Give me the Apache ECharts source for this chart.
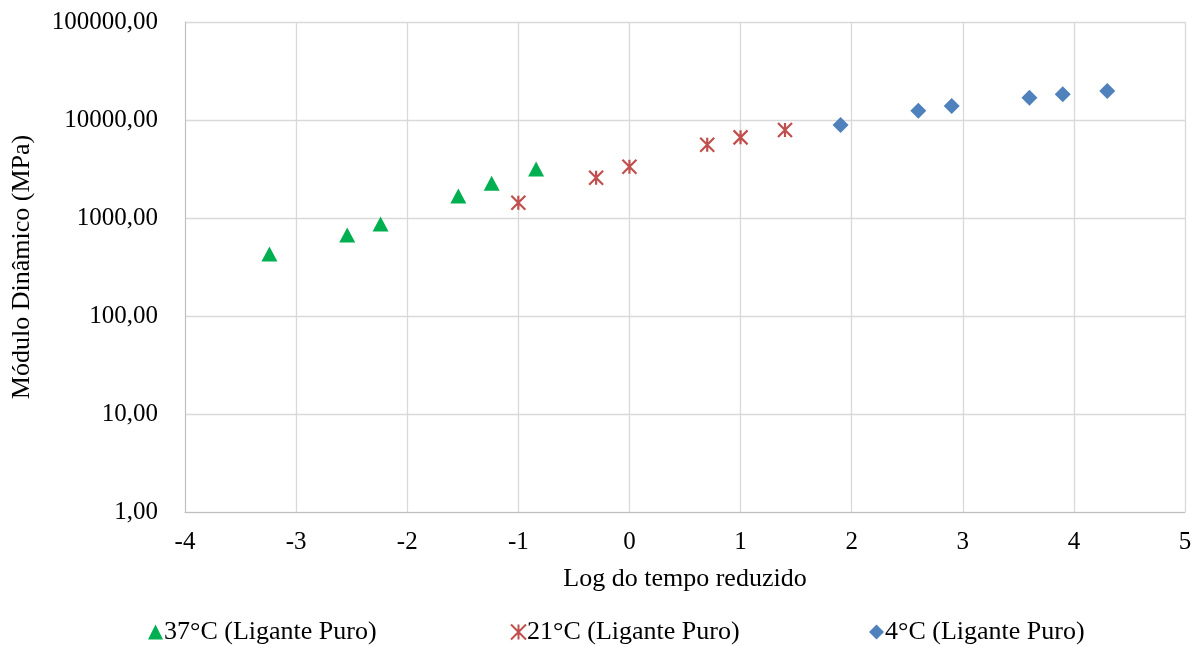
<!DOCTYPE html>
<html><head><meta charset="utf-8">
<script src="https://cdn.jsdelivr.net/npm/echarts@6/dist/echarts.min.js"></script>
<style>html,body{margin:0;padding:0;background:#fff}#c{width:1203px;height:646px}</style>
</head><body><div id="c"></div>
<script>
const seriesNames = ['37°C (Ligante Puro)', '21°C (Ligante Puro)', '4°C (Ligante Puro)'];
const x37 = [-3.24, -2.54, -2.24, -1.54, -1.24, -0.84];
const y37 = [430, 670, 870, 1675, 2260, 3160];
const x21 = [-1.0, -0.30, 0.0, 0.70, 1.0, 1.40];
const y21 = [1430, 2575, 3340, 5600, 6650, 7900];
const x4 = [1.90, 2.60, 2.90, 3.60, 3.90, 4.30];
const y4 = [8900, 12440, 13900, 16900, 18300, 19800];
const xTicks = [-4, -3, -2, -1, 0, 1, 2, 3, 4, 5];
const yTicks = [1, 10, 100, 1000, 10000, 100000];

const pair = (xs, ys) => xs.map((x, i) => [x, ys[i]]);
const font = '"Liberation Serif", "Times New Roman", serif';
const starPath = 'path://M0,0L10,10M10,0L0,10M5,0L5,10';

const chart = echarts.init(document.getElementById('c'), null, {renderer: 'canvas'});
const legendText = {fontFamily: font, fontSize: 26, color: '#000', padding: [0,0,0,-4]};
chart.setOption({
  animation: false,
  backgroundColor: '#fff',
  textStyle: {fontFamily: font},
  grid: {left: 185, right: 18, top: 22, bottom: 134, containLabel: false, outerBoundsMode: 'none'},
  xAxis: {
    type: 'value', min: xTicks[0], max: xTicks[xTicks.length - 1], interval: 1,
    name: 'Log do tempo reduzido', nameLocation: 'middle', nameGap: 54,
    nameTextStyle: {fontFamily: font, fontSize: 26, color: '#000'},
    axisLine: {show: true, onZero: false, lineStyle: {color: '#bfbfbf', width: 1}},
    axisTick: {show: false},
    axisLabel: {fontFamily: font, fontSize: 25, color: '#000', margin: 18},
    splitLine: {show: true, lineStyle: {color: '#d9d9d9', width: 1.3}}
  },
  yAxis: {
    type: 'log', logBase: 10, min: yTicks[0], max: yTicks[yTicks.length - 1],
    name: 'Módulo Dinâmico (MPa)', nameLocation: 'middle', nameGap: 150, nameRotate: 90,
    nameTextStyle: {fontFamily: font, fontSize: 26, color: '#000'},
    axisLine: {show: true, onZero: false, lineStyle: {color: '#bfbfbf', width: 1}},
    axisTick: {show: false},
    axisLabel: {fontFamily: font, fontSize: 25, color: '#000', margin: 27,
      formatter: v => Number(v).toFixed(2).replace('.', ',')},
    splitLine: {show: true, lineStyle: {color: '#d9d9d9', width: 1.3}}
  },
  legend: [
    {data: [seriesNames[0]], left: 143, top: 614, itemWidth: 15, itemHeight: 15, textStyle: legendText},
    {data: [seriesNames[1]], left: 505, top: 614, itemWidth: 15, itemHeight: 15, textStyle: legendText},
    {data: [seriesNames[2]], left: 864, top: 614, itemWidth: 15, itemHeight: 15, textStyle: legendText}
  ],
  series: [
    {name: seriesNames[0], type: 'scatter', data: pair(x37, y37), symbol: 'triangle', symbolSize: [16, 15],
     itemStyle: {color: '#00B050', opacity: 1}},
    {name: seriesNames[1], type: 'scatter', data: pair(x21, y21), symbol: starPath, symbolSize: 14,
     itemStyle: {color: 'rgba(0,0,0,0)', borderColor: '#C0504D', borderWidth: 2.2, opacity: 1}},
    {name: seriesNames[2], type: 'scatter', data: pair(x4, y4), symbol: 'diamond', symbolSize: 16,
     itemStyle: {color: '#4F81BD', opacity: 1}}
  ]
});
</script></body></html>
